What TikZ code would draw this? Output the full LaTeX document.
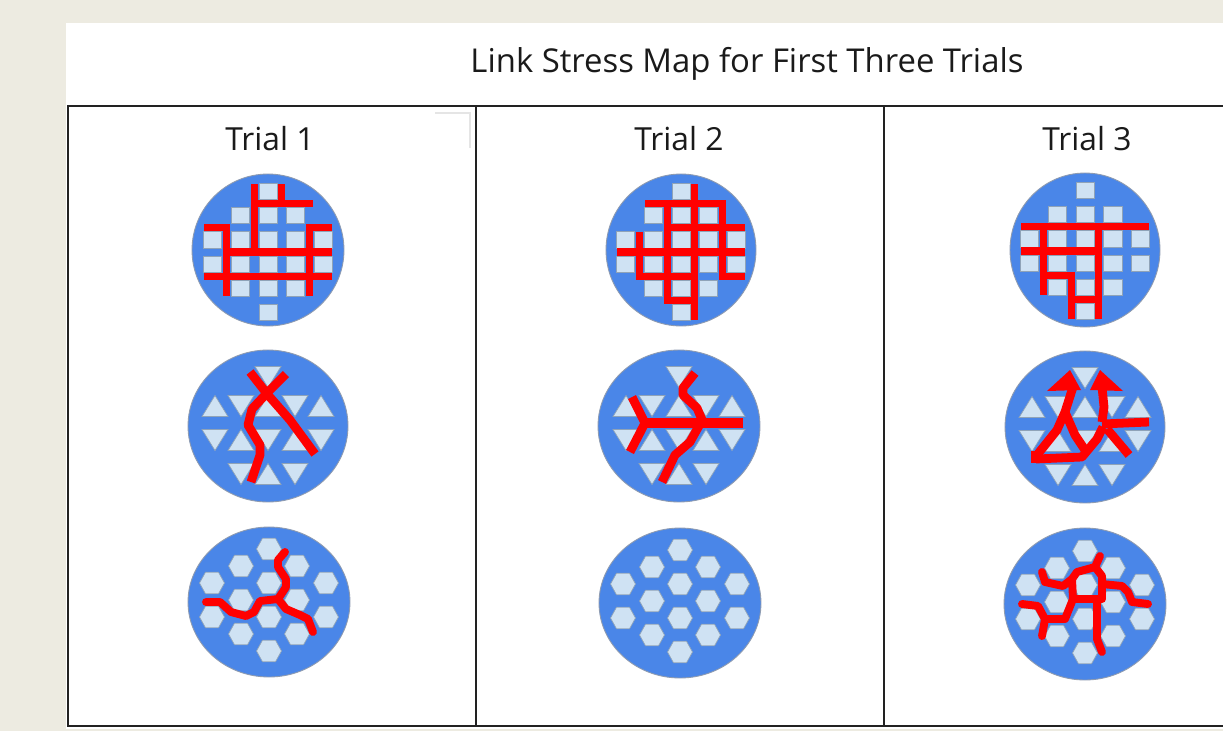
\documentclass[tikz,border=0pt]{standalone}
\usepackage{fontspec}
\setmainfont{Open Sans}
\definecolor{bg}{HTML}{EDEBE1}
\definecolor{discblue}{HTML}{4A86E8}
\definecolor{discedge}{HTML}{8E9BB0}
\definecolor{tileblue}{HTML}{CFE2F3}
\definecolor{tileedge}{HTML}{8FA3B8}
\definecolor{stressred}{HTML}{FF0000}
\definecolor{rulecol}{HTML}{222222}
\definecolor{txt}{HTML}{1A1A1A}
\newcommand\sqtiles{\foreach \c/\r in {0/-2.5,-1/-1.5,0/-1.5,1/-1.5,-2/-0.5,-1/-0.5,0/-0.5,1/-0.5,2/-0.5,-2/0.5,-1/0.5,0/0.5,1/0.5,2/0.5,-1/1.5,0/1.5,1/1.5,0/2.5}{\path[tile] (\c-0.33,\r-0.335) rectangle (\c+0.33,\r+0.335);}}
\newcommand\tritiles{%
  \foreach \x/\y in {-53/-20,0/-20,53/-20,-27/14,27/14,0/48}{\path[tile] (\x-13,\y+10.5) -- (\x+13,\y+10.5) -- (\x,\y-10.5) -- cycle;}%
  \foreach \x/\y in {0/-49,-27/-20,27/-20,-53/14,0/14,53/14,-27/48,27/48}{\path[tile] (\x-13,\y-10.5) -- (\x+13,\y-10.5) -- (\x,\y+10.5) -- cycle;}}
\newcommand\hextiles{\foreach \x/\y in {0/-53,-28/-36,28/-36,-57/-19,0/-19,57/-19,-28/-2,28/-2,-57/15,0/15,57/15,-28/32,28/32,0/49}{\path[tile] (\x-12.5,\y) -- (\x-6.5,\y-10.8) -- (\x+6.5,\y-10.8) -- (\x+12.5,\y) -- (\x+6.5,\y+10.8) -- (\x-6.5,\y+10.8) -- cycle;}}
\begin{document}
\begin{tikzpicture}[x=0.02cm,y=-0.02cm,
  disc/.style={fill=discblue,draw=discedge,line width=0.5pt},
  tile/.style={fill=tileblue,draw=tileedge,line width=0.4pt},
  gridstress/.style={draw=stressred,line width=4pt,line cap=rect},
  tristress/.style={draw=stressred,line width=5pt,line join=round},
  hexstress/.style={draw=stressred,line width=4.5pt,line cap=round,line join=round},
  heading/.style={text=txt,inner sep=0pt,anchor=base,font=\fontsize{18.7}{22}\selectfont},
  trial/.style={text=txt,inner sep=0pt,anchor=base,font=\fontsize{18.1}{21}\selectfont},
  tablerule/.style={draw=rulecol,line width=1.1pt}]
\useasboundingbox (0,0) rectangle (1223,731);
\fill[bg] (0,0) rectangle (1223,731);
\fill[white] (66,23) rectangle (1223,729);
% table
\draw[tablerule] (1223,106) -- (68,106) -- (68,726) -- (1223,726);
\draw[tablerule] (476,106) -- (476,726);
\draw[tablerule] (884,106) -- (884,726);
\draw[black!10,line width=0.6pt] (435,113) -- (470,113) -- (470,148);
% texts
\node[heading] (title) at (747,72) {Link Stress Map for First Three Trials};
\node[trial] (trial1) at (270,150) {Trial 1};
\node[trial] (trial2) at (679,150) {Trial 2};
\node[trial] (trial3) at (1087,150) {Trial 3};
% discs
\path[disc] (268,250) ellipse [x radius=1.52cm, y radius=1.52cm];
\path[disc] (681,250) ellipse [x radius=1.5cm, y radius=1.52cm];
\path[disc] (1085,250) ellipse [x radius=1.5cm, y radius=1.54cm];
\path[disc] (268,426) ellipse [x radius=1.6cm, y radius=1.52cm];
\path[disc] (679,426) ellipse [x radius=1.62cm, y radius=1.52cm];
\path[disc] (1085,427) ellipse [x radius=1.6cm, y radius=1.52cm];
\path[disc] (269,602) ellipse [x radius=1.62cm, y radius=1.5cm];
\path[disc] (680,603) ellipse [x radius=1.62cm, y radius=1.5cm];
\path[disc] (1085,604) ellipse [x radius=1.62cm, y radius=1.52cm];
% ---- square grids
\begin{scope}[shift={(268,252)},x=0.554cm,y=-0.484cm]
  \sqtiles
  \draw[gridstress] (-0.5,-2.67) -- (-0.5,0);
  \draw[gridstress] (0.5,-2.67) -- (0.5,-2);
  \draw[gridstress] (-0.5,-2) -- (1.5,-2);
  \draw[gridstress] (-2.18,-1) -- (-1.5,-1);
  \draw[gridstress] (1.5,-1) -- (2.18,-1);
  \draw[gridstress] (-1.5,-1) -- (-1.5,1.67);
  \draw[gridstress] (1.5,-1) -- (1.5,1.67);
  \draw[gridstress] (-1.5,0) -- (2.18,0);
  \draw[gridstress] (-2.18,1) -- (2.18,1);
\end{scope}
\begin{scope}[shift={(681,252)},x=0.554cm,y=-0.484cm]
  \sqtiles
  \draw[gridstress] (0.5,-2.67) -- (0.5,2.67);
  \draw[gridstress] (-1.17,-2) -- (1.5,-2);
  \draw[gridstress] (-0.5,-2) -- (-0.5,2);
  \draw[gridstress] (-0.5,2) -- (0.5,2);
  \draw[gridstress] (1.5,-2) -- (1.5,1);
  \draw[gridstress] (1.5,1) -- (2.18,1);
  \draw[gridstress] (-0.5,-1) -- (2.18,-1);
  \draw[gridstress] (-1.5,-0.67) -- (-1.5,1);
  \draw[gridstress] (-2.18,0) -- (2.18,0);
  \draw[gridstress] (-1.5,1) -- (0.5,1);
\end{scope}
\begin{scope}[shift={(1085,251)},x=0.554cm,y=-0.484cm]
  \sqtiles
  \draw[gridstress] (-2.18,-1) -- (2.18,-1);
  \draw[gridstress] (-2.18,0) -- (0.5,0);
  \draw[gridstress] (-1.5,-1) -- (-1.5,1.67);
  \draw[gridstress] (0.5,-1) -- (0.5,2.67);
  \draw[gridstress] (-1.5,1) -- (-0.5,1);
  \draw[gridstress] (-0.5,1) -- (-0.5,2.67);
  \draw[gridstress] (-0.5,2) -- (0.5,2);
\end{scope}
% ---- triangle grids
\begin{scope}[shift={(268,426)}]
  \tritiles
  \draw[tristress] (-18,-54) -- (0,-31) -- (22,-6) -- (47,28);
  \draw[tristress] (18,-52) -- (0,-34) -- (-16,-17) -- (-20,-1) -- (-8,19) -- (-8,29) -- (-17,56);
\end{scope}
\begin{scope}[shift={(679,426)}]
  \tritiles
  \draw[tristress] (-47,-29) -- (-34,-3) -- (-49,26);
  \draw[stressred,line width=5.7pt] (-36,-3) -- (64,-3);
  \draw[tristress] (16,-53) -- (4,-38) -- (4,-31) -- (18,-18) -- (24,-4);
  \draw[tristress] (21,-2) -- (11,16) -- (-4,29) -- (-17,56);
\end{scope}
\begin{scope}[shift={(1085,427)}]
  \tritiles
  \fill[stressred] (-38,-36) -- (-15,-57) -- (-4,-37) -- cycle;
  \fill[stressred] (5,-37) -- (15,-57) -- (38,-36) -- cycle;
  \draw[tristress] (-12,-40) -- (-20,-15) -- (-28,3) -- (-48,28);
  \draw[tristress] (-50,24) -- (-50,36);
  \draw[tristress] (-49,32) -- (-3,30) -- (12,12) -- (18,0);
  \draw[tristress] (17,-40) -- (19,-20) -- (17,-5);
  \draw[tristress] (-20,-15) -- (-10,8) -- (2,26);
  \draw[tristress] (17,-3) -- (64,-5);
  \draw[tristress] (22,2) -- (44,28);
\end{scope}
% ---- hex grids
\begin{scope}[shift={(269,602)}]
  \hextiles
  \draw[hexstress] (-63,0) -- (-49,0) -- (-38,10) -- (-23,14) -- (-15,10) -- (-9,-1) -- (9,-3) -- (17,-15) -- (17,-23) -- (9,-35) -- (9,-42) -- (16,-50);
  \draw[hexstress] (9,-3) -- (17,7) -- (31,13) -- (39,17) -- (44,30);
\end{scope}
\begin{scope}[shift={(680,603)}]
  \hextiles
\end{scope}
\begin{scope}[shift={(1085,604)}]
  \hextiles
  \draw[hexstress] (-43,-32) -- (-40,-22) -- (-22,-18) -- (-13,-25) -- (-8,-32) -- (10,-37) -- (15,-48);
  \draw[hexstress] (10,-37) -- (17,-28) -- (17,-5) -- (-12,-5) -- (-13,-25);
  \draw[hexstress] (17,-20) -- (37,-18) -- (43,-12) -- (47,-2) -- (63,0);
  \draw[hexstress] (-63,0) -- (-47,2) -- (-40,15) -- (-20,15) -- (-12,-5);
  \draw[hexstress] (-40,15) -- (-43,32);
  \draw[hexstress] (12,-5) -- (12,18) -- (12,35) -- (17,48);
\end{scope}
\end{tikzpicture}
\end{document}
